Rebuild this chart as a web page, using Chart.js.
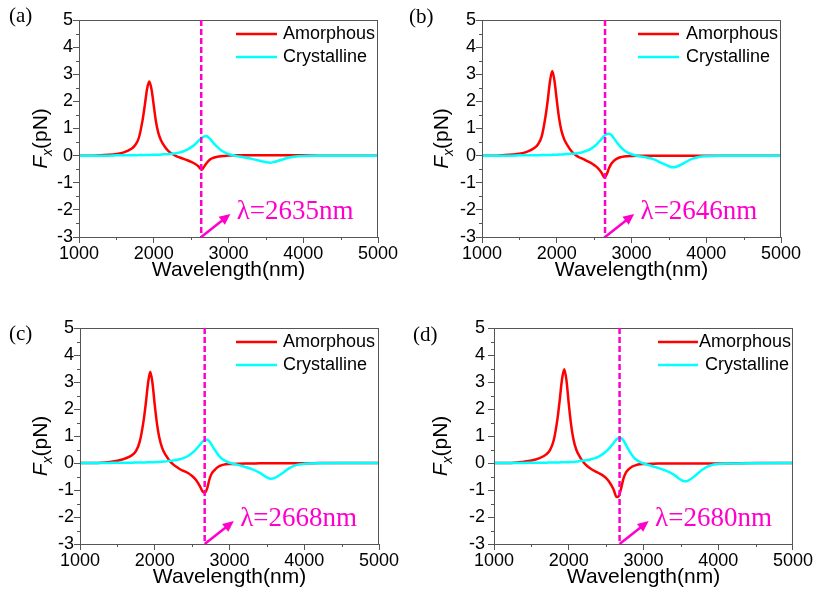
<!DOCTYPE html>
<html lang="en">
<head>
  <meta charset="UTF-8" />
  <title>Fx spectra</title>
  <script src="https://cdn.jsdelivr.net/npm/chart.js"></script>
  <style>
    body { margin: 0; background: #fff; width: 813px; height: 592px; overflow: hidden; position: relative; }
    .panel { position: absolute; }
  </style>
</head>
<body>
  <div class="panel" style="left:0;top:0;width:400px;height:296px"><canvas id="chartA"></canvas></div>
  <div class="panel" style="left:400px;top:0;width:413px;height:296px"><canvas id="chartB"></canvas></div>
  <div class="panel" style="left:0;top:296px;width:400px;height:296px"><canvas id="chartC"></canvas></div>
  <div class="panel" style="left:400px;top:296px;width:413px;height:296px"><canvas id="chartD"></canvas></div>

  <script>
    // wavelength samples (nm), shared by all four panels
    const wavelength = [1000, 1200, 1400, 1500, 1600, 1700, 1750, 1800, 1850, 1880, 1910, 1940, 1970, 2000, 2030, 2060,
      2100, 2150, 2200, 2250, 2300, 2350, 2400, 2450, 2500, 2550, 2600, 2640, 2670, 2700, 2730, 2760, 2800, 2850,
      2900, 2950, 3000, 3100, 3200, 3300, 3400, 3500, 3550, 3600, 3700, 3800, 3900, 4000, 4200, 4500, 5000];

    // Fx (pN)
    const amorphA = [0, 0, 0.03, 0.06, 0.12, 0.25, 0.38, 0.65, 1.3, 1.85, 2.45, 2.73, 2.45, 1.85, 1.25, 0.85,
      0.55, 0.32, 0.16, 0.06, -0.02, -0.07, -0.12, -0.17, -0.23, -0.3, -0.4, -0.52, -0.42, -0.3, -0.2, -0.13, -0.08, -0.04,
      -0.02, -0.01, 0, 0.01, 0.01, 0.01, 0.01, 0.01, 0.01, 0.01, 0.01, 0.01, 0.01, 0.01, 0, 0, 0];
    const crystA = [0, 0, 0, 0.01, 0.01, 0.01, 0.01, 0.02, 0.02, 0.02, 0.02, 0.02, 0.03, 0.03, 0.03, 0.03,
      0.04, 0.05, 0.06, 0.07, 0.09, 0.12, 0.16, 0.22, 0.31, 0.41, 0.55, 0.65, 0.7, 0.72, 0.68, 0.6, 0.46, 0.32,
      0.2, 0.12, 0.06, -0.01, -0.06, -0.11, -0.18, -0.24, -0.26, -0.24, -0.16, -0.08, -0.03, -0.01, 0, 0, 0];

    const amorphB = [0, 0, 0.04, 0.07, 0.14, 0.28, 0.42, 0.72, 1.45, 2.05, 2.75, 3.12, 2.75, 2.05, 1.4, 0.95,
      0.6, 0.35, 0.15, 0.02, -0.06, -0.12, -0.19, -0.26, -0.35, -0.46, -0.63, -0.82, -0.68, -0.46, -0.3, -0.2, -0.12, -0.06,
      -0.03, -0.02, -0.01, 0, 0, 0, 0, 0, 0, 0, 0, 0, 0, 0, 0, 0, 0];
    const crystB = [0, 0, 0, 0.01, 0.01, 0.01, 0.01, 0.02, 0.02, 0.02, 0.02, 0.03, 0.03, 0.03, 0.04, 0.04,
      0.05, 0.06, 0.07, 0.08, 0.1, 0.13, 0.18, 0.24, 0.34, 0.46, 0.62, 0.74, 0.8, 0.81, 0.76, 0.66, 0.5, 0.33,
      0.2, 0.11, 0.05, -0.02, -0.07, -0.14, -0.27, -0.39, -0.43, -0.41, -0.28, -0.13, -0.05, -0.02, 0, 0, 0];

    const amorphC = [0, 0, 0.04, 0.08, 0.16, 0.3, 0.45, 0.8, 1.55, 2.2, 2.95, 3.38, 2.95, 2.15, 1.45, 0.95,
      0.55, 0.28, 0.08, -0.06, -0.16, -0.25, -0.31, -0.38, -0.48, -0.62, -0.84, -1.05, -1.1, -0.95, -0.62, -0.4, -0.26, -0.14,
      -0.08, -0.05, -0.04, -0.03, -0.02, -0.02, -0.01, -0.01, -0.01, -0.01, -0.01, -0.01, -0.01, -0.01, 0, 0, 0];
    const crystC = [0, 0, 0, 0.01, 0.01, 0.01, 0.02, 0.02, 0.02, 0.02, 0.03, 0.03, 0.03, 0.03, 0.04, 0.04,
      0.05, 0.06, 0.08, 0.09, 0.12, 0.15, 0.2, 0.27, 0.37, 0.5, 0.66, 0.79, 0.85, 0.86, 0.8, 0.68, 0.5, 0.3,
      0.16, 0.07, 0.01, -0.06, -0.14, -0.23, -0.36, -0.53, -0.58, -0.56, -0.39, -0.19, -0.07, -0.03, -0.01, 0, 0];

    const amorphD = [0, 0, 0.05, 0.09, 0.17, 0.32, 0.48, 0.85, 1.65, 2.35, 3.1, 3.47, 3.05, 2.2, 1.45, 0.92,
      0.5, 0.22, 0.02, -0.12, -0.22, -0.3, -0.37, -0.45, -0.56, -0.73, -0.98, -1.26, -1.22, -0.95, -0.6, -0.38, -0.24, -0.13,
      -0.08, -0.05, -0.04, -0.03, -0.02, -0.02, -0.02, -0.02, -0.02, -0.02, -0.02, -0.02, -0.02, -0.02, -0.01, 0, 0];
    const crystD = [0, 0, 0, 0.01, 0.01, 0.01, 0.02, 0.02, 0.02, 0.02, 0.03, 0.03, 0.03, 0.03, 0.04, 0.04,
      0.05, 0.07, 0.09, 0.11, 0.14, 0.18, 0.24, 0.32, 0.43, 0.57, 0.74, 0.88, 0.93, 0.92, 0.84, 0.7, 0.5, 0.28,
      0.13, 0.04, -0.02, -0.1, -0.19, -0.28, -0.42, -0.62, -0.68, -0.65, -0.45, -0.22, -0.09, -0.04, -0.02, -0.01, 0];

    const lambdas = [2635, 2646, 2668, 2680];
    const tags = ['(a)', '(b)', '(c)', '(d)'];
    const seriesNames = ['Amorphous', 'Crystalline'];
    const xRange = [1000, 5000];
    const yRange = [-3, 5];

    const SANS = '"Liberation Sans", Arial, sans-serif';
    const SERIF = '"Liberation Serif", "Times New Roman", serif';
    const PINK = '#ff00cc';
    const AXIS = '#555';

    const isMajorX = v => v % 1000 === 0;
    const isMajorY = v => Number.isInteger(v);

    // frame, minor ticks, dashed marker, arrow, labels, legend and axis titles
    const decor = {
      id: 'decor',
      afterDatasetsDraw(chart, args, o) {
        const { ctx, chartArea: a, scales: { x, y } } = chart;
        ctx.save();
        ctx.strokeStyle = AXIS;
        ctx.lineWidth = 1;
        ctx.strokeRect(a.left + 0.5, a.top + 0.5, a.right - a.left - 1, a.bottom - a.top);

        // short minor ticks
        ctx.beginPath();
        x.ticks.forEach(t => {
          if (isMajorX(t.value)) return;
          const px = Math.round(x.getPixelForValue(t.value)) + 0.5;
          ctx.moveTo(px, a.bottom);
          ctx.lineTo(px, a.bottom + 3);
        });
        y.ticks.forEach(t => {
          if (isMajorY(t.value)) return;
          const py = Math.round(y.getPixelForValue(t.value)) + 0.5;
          ctx.moveTo(a.left, py);
          ctx.lineTo(a.left - 3, py);
        });
        ctx.stroke();

        // resonance marker
        const lx = x.getPixelForValue(o.lambda);
        ctx.strokeStyle = PINK;
        ctx.lineWidth = 2.5;
        ctx.setLineDash([6, 3]);
        ctx.beginPath();
        ctx.moveTo(lx, a.top);
        ctx.lineTo(lx, a.bottom);
        ctx.stroke();
        ctx.setLineDash([]);

        // arrow
        const x0 = lx, y0 = y.getPixelForValue(yRange[0]);
        const x1 = x.getPixelForValue(o.lambda + 390), y1 = y.getPixelForValue(-2.15);
        const ang = Math.atan2(y1 - y0, x1 - x0);
        ctx.beginPath();
        ctx.moveTo(x0, y0);
        ctx.lineTo(x1 - 6 * Math.cos(ang), y1 - 6 * Math.sin(ang));
        ctx.stroke();
        ctx.fillStyle = PINK;
        ctx.beginPath();
        ctx.moveTo(x1, y1);
        ctx.lineTo(x1 - 11 * Math.cos(ang) + 5 * Math.sin(ang), y1 - 11 * Math.sin(ang) - 5 * Math.cos(ang));
        ctx.lineTo(x1 - 11 * Math.cos(ang) - 5 * Math.sin(ang), y1 - 11 * Math.sin(ang) + 5 * Math.cos(ang));
        ctx.closePath();
        ctx.fill();

        ctx.font = '27px ' + SERIF;
        ctx.textBaseline = 'alphabetic';
        ctx.textAlign = 'left';
        ctx.fillText('\u03bb=' + o.lambda + 'nm', x.getPixelForValue(o.lambda + 475), y.getPixelForValue(-2.33));

        // legend
        ctx.font = '18px ' + SANS;
        ctx.textBaseline = 'middle';
        chart.data.datasets.forEach((ds, i) => {
          const ly = a.top + 14 + 23 * i;
          ctx.strokeStyle = ds.borderColor;
          ctx.lineWidth = 2.5;
          ctx.beginPath();
          ctx.moveTo(a.right + o.legLine[0], ly);
          ctx.lineTo(a.right + o.legLine[1], ly);
          ctx.stroke();
          ctx.fillStyle = '#000';
          ctx.fillText(ds.label, a.right + o.legText[i], ly);
        });

        // x title
        ctx.textAlign = 'center';
        ctx.textBaseline = 'alphabetic';
        ctx.font = '21px ' + SANS;
        ctx.fillText('Wavelength(nm)', (a.left + a.right) / 2, a.bottom + 39);

        // y title F_x(pN)
        const parts = [
          { t: 'F', f: 'italic 21px ' + SANS, dy: 0 },
          { t: 'x', f: 'italic 14px ' + SANS, dy: 5 },
          { t: '(pN)', f: '21px ' + SANS, dy: 0 }
        ];
        let w = 0;
        parts.forEach(p => { ctx.font = p.f; p.w = ctx.measureText(p.t).width; w += p.w; });
        ctx.translate(a.left + o.yTitle, (a.top + a.bottom) / 2 + 10);
        ctx.rotate(-Math.PI / 2);
        ctx.textAlign = 'left';
        let cx = -w / 2;
        parts.forEach(p => { ctx.font = p.f; ctx.fillText(p.t, cx, 7.5 + p.dy); cx += p.w; });
        ctx.restore();

        // panel tag
        ctx.save();
        ctx.font = '21px ' + SERIF;
        ctx.fillStyle = '#000';
        ctx.textBaseline = 'middle';
        ctx.fillText(o.tag, o.tagPos[0], o.tagPos[1]);
        ctx.restore();
      }
    };

    function makePanel(id, amorph, cryst, i, geo) {
      const pts = arr => wavelength.map((w, k) => ({ x: w, y: arr[k] }));
      const grid = isMajor => ({
        display: true, drawOnChartArea: false, drawTicks: true, tickLength: 6, color: AXIS,
        tickColor: c => (c.tick && isMajor(c.tick.value) ? AXIS : 'rgba(0,0,0,0)')
      });
      return new Chart(document.getElementById(id), {
        type: 'line',
        data: {
          datasets: [
            { label: seriesNames[0], data: pts(amorph), borderColor: '#ff0000', borderWidth: 2.5, pointRadius: 0, cubicInterpolationMode: 'monotone', order: 1 },
            { label: seriesNames[1], data: pts(cryst), borderColor: '#00ffff', borderWidth: 2.5, pointRadius: 0, cubicInterpolationMode: 'monotone', order: 0 }
          ]
        },
        options: {
          responsive: true,
          maintainAspectRatio: false,
          animation: false,
          layout: { padding: { top: geo.top, right: geo.right, left: 0, bottom: 0 } },
          scales: {
            x: {
              type: 'linear', min: xRange[0], max: xRange[1],
              grid: grid(isMajorX),
              border: { display: true, color: AXIS, width: 1 },
              ticks: {
                stepSize: 500, autoSkip: false, maxRotation: 0, padding: 0, color: '#000',
                font: { family: SANS, size: 18 },
                callback: v => (isMajorX(v) ? v : '')
              },
              afterFit: s => { s.height = geo.xh; }
            },
            y: {
              type: 'linear', min: yRange[0], max: yRange[1],
              grid: grid(isMajorY),
              border: { display: true, color: AXIS, width: 1 },
              ticks: {
                stepSize: 0.5, autoSkip: false, padding: geo.ypad, color: '#000',
                font: { family: SANS, size: 18 },
                callback: v => (isMajorY(v) ? v : '')
              },
              afterFit: s => { s.width = geo.left; }
            }
          },
          plugins: {
            legend: { display: false },
            tooltip: { enabled: false },
            decor: { lambda: lambdas[i], tag: tags[i], tagPos: geo.tag, yTitle: geo.yTitle, legLine: geo.legLine, legText: geo.legText }
          }
        },
        plugins: [decor]
      });
    }

    makePanel('chartA', amorphA, crystA, 0, { top: 20, right: 22, left: 79, xh: 59, ypad: 0, yTitle: -40, tag: [9, 16], legLine: [-142, -101], legText: [-95, -95] });
    makePanel('chartB', amorphB, crystB, 1, { top: 20, right: 32, left: 82, xh: 59, ypad: 0, yTitle: -42, tag: [9, 17], legLine: [-143, -102], legText: [-95, -95] });
    makePanel('chartC', amorphC, crystC, 2, { top: 32, right: 21, left: 80, xh: 48, ypad: 0, yTitle: -41, tag: [9, 38], legLine: [-143, -102], legText: [-96, -96] });
    makePanel('chartD', amorphD, crystD, 3, { top: 32, right: 20, left: 94, xh: 48, ypad: 3, yTitle: -55, tag: [13, 39], legLine: [-135, -95], legText: [-94, -88] });
  </script>
</body>
</html>
